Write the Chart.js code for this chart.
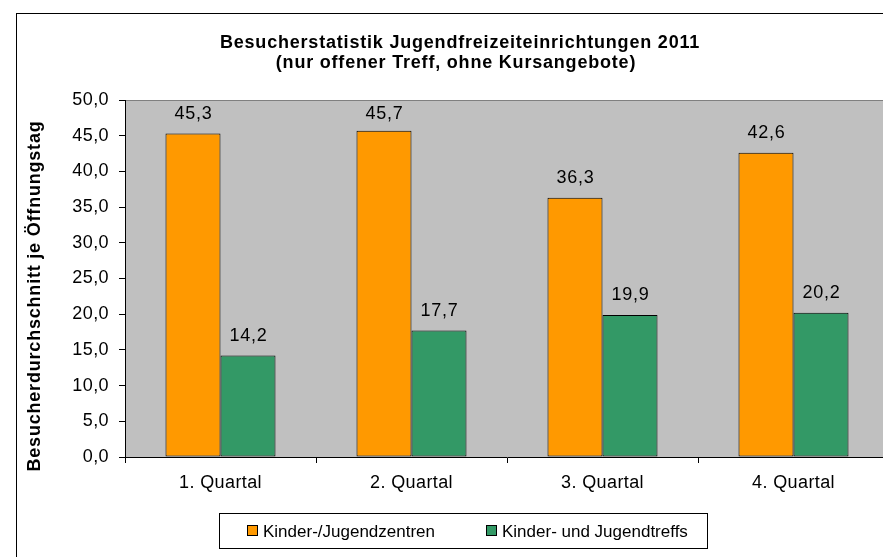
<!DOCTYPE html>
<html>
<head>
<meta charset="utf-8">
<script src="https://cdn.jsdelivr.net/npm/chart.js@4/dist/chart.umd.min.js"></script>
<style>
  html, body { margin: 0; padding: 0; background: #fff; overflow: hidden; width: 883px; height: 557px; }
  #wrap { position: absolute; left: 0; top: 0; width: 900px; height: 557px; }
</style>
</head>
<body>
<div id="wrap"><canvas id="c" width="900" height="557"></canvas></div>
<script>
const titleLines = ['Besucherstatistik Jugendfreizeiteinrichtungen 2011', '(nur offener Treff, ohne Kursangebote)'];
const yAxisTitle = 'Besucherdurchschnitt je Öffnungstag';
const categories = ['1. Quartal', '2. Quartal', '3. Quartal', '4. Quartal'];
const seriesNames = ['Kinder-/Jugendzentren', 'Kinder- und Jugendtreffs'];
const zentren = [45.3, 45.7, 36.3, 42.6];
const treffs = [14.2, 17.7, 19.9, 20.2];
const yMin = 0, yMax = 50, yStep = 5;

const FONT = '"Liberation Sans", Arial, sans-serif';
const fmt = v => v.toFixed(1).replace('.', ',');

const decor = {
  id: 'decor',
  beforeDraw(chart) {
    const ctx = chart.ctx, a = chart.chartArea;
    ctx.save();
    ctx.fillStyle = '#C0C0C0';
    ctx.fillRect(a.left, a.top, a.right - a.left, a.bottom - a.top);
    ctx.strokeStyle = '#808080';
    ctx.lineWidth = 1;
    ctx.beginPath();
    ctx.moveTo(a.left, a.top + 0.5);
    ctx.lineTo(a.right, a.top + 0.5);
    ctx.stroke();
    ctx.restore();
    ctx.letterSpacing = '0.4px';
  },
  afterDatasetsDraw(chart) {
    const ctx = chart.ctx;
    ctx.save();
    ctx.letterSpacing = '0.8px';
    ctx.font = '18px ' + FONT;
    ctx.fillStyle = '#000';
    ctx.textAlign = 'center';
    ctx.textBaseline = 'alphabetic';
    chart.data.datasets.forEach((ds, di) => {
      const meta = chart.getDatasetMeta(di);
      meta.data.forEach((el, i) => {
        const y = Math.max(el.y - 15, 119);
        ctx.fillText(fmt(ds.data[i]), el.x + 0.5, y);
      });
    });
    ctx.restore();
  },
  afterDraw(chart) {
    const ctx = chart.ctx;
    ctx.save();
    // outer border
    ctx.strokeStyle = '#000';
    ctx.lineWidth = 1;
    ctx.strokeRect(16.5, 13.5, 1000, 1000);
    // title
    ctx.fillStyle = '#000';
    ctx.font = 'bold 18px ' + FONT;
    ctx.letterSpacing = '0.8px';
    ctx.textAlign = 'center';
    ctx.textBaseline = 'alphabetic';
    ctx.fillText(titleLines[0], 460, 47.5);
    ctx.fillText(titleLines[1], 456, 67.5);
    // y axis title
    ctx.save();
    ctx.translate(40, 296);
    ctx.rotate(-Math.PI / 2);
    ctx.fillText(yAxisTitle, 0, 0);
    ctx.restore();
    // legend
    ctx.letterSpacing = '0px';
    ctx.fillStyle = '#fff';
    ctx.fillRect(219.5, 513.5, 488, 35);
    ctx.strokeStyle = '#000';
    ctx.strokeRect(219.5, 513.5, 488, 35);
    const items = [{x: 247}, {x: 486}];
    ctx.font = '17px ' + FONT;
    ctx.textAlign = 'left';
    chart.data.datasets.forEach((ds, i) => {
      const x = items[i].x;
      ctx.fillStyle = ds.backgroundColor;
      ctx.fillRect(x + 0.5, 525.5, 10, 10);
      ctx.strokeStyle = '#000';
      ctx.strokeRect(x + 0.5, 525.5, 10, 10);
      ctx.fillStyle = '#000';
      ctx.fillText(ds.label, x + 16, 536.5);
    });
    ctx.restore();
  }
};

new Chart(document.getElementById('c'), {
  type: 'bar',
  data: {
    labels: categories,
    datasets: [
      { label: seriesNames[0], data: zentren, backgroundColor: '#FF9900', borderColor: '#000', borderWidth: 1, borderSkipped: false },
      { label: seriesNames[1], data: treffs, backgroundColor: '#339966', borderColor: '#000', borderWidth: 1, borderSkipped: false }
    ]
  },
  options: {
    responsive: false,
    animation: false,
    events: [],
    datasets: { bar: { categoryPercentage: 0.576, barPercentage: 1.0 } },
    layout: { padding: { top: 100, right: 11, bottom: 0, left: 0 } },
    plugins: { legend: { display: false }, title: { display: false }, tooltip: { enabled: false } },
    scales: {
      x: {
        afterFit(s) { s.height = 100; },
        grid: { display: true, offset: true, drawOnChartArea: false, drawTicks: true, tickLength: 6, tickColor: '#000', color: '#000' },
        border: { display: true, color: '#000', width: 1 },
        ticks: { color: '#000', font: { family: FONT, size: 18 }, padding: 9, maxRotation: 0, autoSkip: false }
      },
      y: {
        min: yMin, max: yMax,
        afterFit(s) { s.width = 125; },
        grid: { display: true, drawOnChartArea: false, drawTicks: true, tickLength: 6, tickColor: '#000', color: '#000' },
        border: { display: true, color: '#000', width: 1 },
        ticks: { stepSize: yStep, color: '#000', font: { family: FONT, size: 18 }, padding: 10, callback: v => fmt(v) }
      }
    }
  },
  plugins: [decor]
});
</script>
</body>
</html>
